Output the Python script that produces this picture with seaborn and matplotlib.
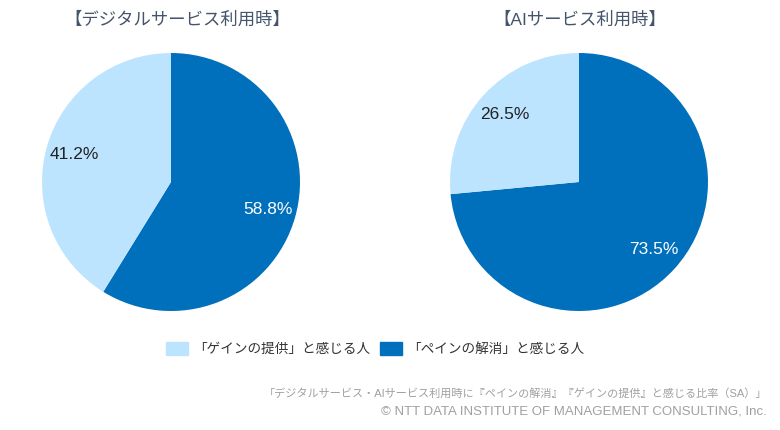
import matplotlib
matplotlib.use('Agg')
import matplotlib.pyplot as plt
from matplotlib.patches import Patch
import seaborn as sns

sns.set_theme(style='white')
plt.rcParams['font.family'] = ['Liberation Sans', 'Noto Sans CJK JP', 'DejaVu Sans']

titles = ['【デジタルサービス利用時】', '【AIサービス利用時】']
categories = ['「ペインの解消」と感じる人', '「ゲインの提供」と感じる人']
digital_values = [58.8, 41.2]
ai_values = [73.5, 26.5]
colors = ['#0070BD', '#BDE4FF']
footer_lines = ['「デジタルサービス・AIサービス利用時に『ペインの解消』『ゲインの提供』と感じる比率（SA）」',
                '© NTT DATA INSTITUTE OF MANAGEMENT CONSULTING, Inc.']

W, H = 780, 430
fig = plt.figure(figsize=(W / 100, H / 100), dpi=100, facecolor='white')


def draw_pie(cx, cy, r, values, title, title_x):
    ax = fig.add_axes([(cx - r) / W, (H - cy - r) / H, 2 * r / W, 2 * r / H])
    wedges, texts, pcts = ax.pie(values, colors=colors, startangle=90, counterclock=False,
                                 radius=1, autopct='%.1f%%', pctdistance=0.78,
                                 wedgeprops={'linewidth': 0})
    ax.set_xlim(-1, 1)
    ax.set_ylim(-1, 1)
    pcts[0].set_color('white')
    pcts[1].set_color('#222222')
    for p in pcts:
        p.set_fontsize(12.5)
    fig.text(title_x / W, 1 - 20 / H, title, ha='center', va='center',
             fontsize=12.5, color='#44546A')


draw_pie(171, 182, 129, digital_values, titles[0], 177)
draw_pie(579, 182, 129, ai_values, titles[1], 580)

handles = [Patch(color=colors[1]), Patch(color=colors[0])]
fig.legend(handles, [categories[1], categories[0]], loc='center', ncol=2,
           bbox_to_anchor=(375 / W, 1 - 349 / H), frameon=False, fontsize=9.8,
           handlelength=1.6, handleheight=1.1, handletextpad=0.4, columnspacing=0.7,
           labelcolor='#333333')

fig.text(767 / W, 1 - 393 / H, footer_lines[0], ha='right', va='center', fontsize=8, color='#A0A0A0')
fig.text(767 / W, 1 - 412 / H, footer_lines[1], ha='right', va='center', fontsize=9.5, color='#A0A0A0')

fig.savefig('out.png', dpi=100)
